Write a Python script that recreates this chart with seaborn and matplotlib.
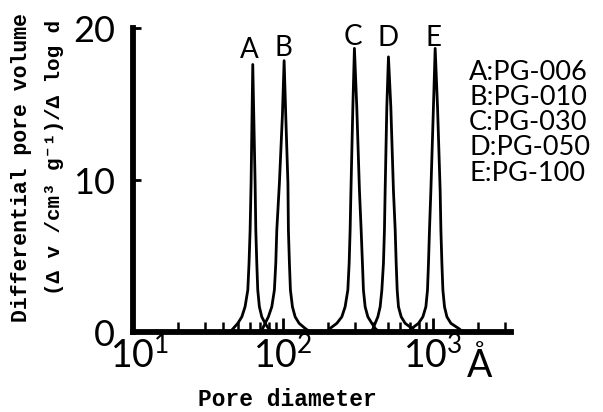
import numpy as np
import pandas as pd
import matplotlib
matplotlib.use("Agg")
import matplotlib.pyplot as plt
import matplotlib.ticker as mticker
import matplotlib.transforms as mtransforms
import seaborn as sns

# ---- data (pore diameter in Å, dV/dlogd) ----
samples = ["A", "B", "C", "D", "E"]
sample_names = ["PG-006", "PG-010", "PG-030", "PG-050", "PG-100"]

A_diam = [44.3, 46.6, 49.9, 53.1, 55.8, 58.2, 59.3, 60.3, 61.2, 62.8,
          65.1, 65.8, 66.8, 67.8, 69.5, 72.1, 75.9, 79.8, 85.8]
A_vol = [0.0, 0.24, 0.57, 1.0, 1.66, 2.76, 4.52, 6.71, 9.8, 17.6,
         9.8, 6.71, 4.52, 2.76, 1.66, 1.0, 0.57, 0.24, 0.0]

B_diam = [71.3, 75.9, 79.8, 84.1, 87.5, 89.4, 90.8, 94.5, 98.9, 101.6,
          104.2, 107.7, 108.5, 110.2, 111.9, 115.4, 120.3, 127.9, 140.2, 151.4]
B_vol = [0.0, 0.57, 1.0, 1.66, 2.76, 4.52, 6.71, 9.8, 14.2, 17.85,
         14.2, 9.8, 6.71, 4.52, 2.76, 1.66, 1.0, 0.57, 0.24, 0.0]

C_diam = [193.5, 205.8, 228.0, 246.3, 259.0, 270.0, 275.5, 279.7, 283.2, 291.6, 298.7,
          309.7, 322.7, 331.2, 337.8, 343.0, 352.1, 367.0, 390.2, 410.5, 436.5]
C_vol = [0.0, 0.24, 0.57, 1.0, 1.66, 2.76, 4.52, 6.71, 9.3, 14.8, 18.66,
         14.8, 9.3, 6.71, 4.52, 2.76, 1.66, 1.0, 0.57, 0.24, 0.0]

D_diam = [386.0, 398.1, 410.5, 427.9, 443.3, 455.0, 466.3, 473.5, 478.6, 491.0, 503.5,
          522.2, 543.6, 558.3, 566.9, 575.7, 587.2, 612.1, 650.9, 721.4, 770.5]
D_vol = [0.0, 0.24, 0.57, 1.0, 1.66, 2.76, 4.52, 6.71, 9.3, 14.8, 18.1,
         14.8, 9.3, 6.71, 4.52, 2.76, 1.66, 1.0, 0.57, 0.24, 0.0]

E_diam = [671.2, 721.4, 798.2, 853.9, 894.1, 916.4, 930.5, 944.9, 965.2, 1004.0, 1031.0,
          1069.0, 1113.0, 1125.7, 1143.0, 1160.7, 1189.7, 1234.3, 1312.4, 1474.9, 1585.0]
E_vol = [0.0, 0.24, 0.57, 1.0, 1.66, 2.76, 4.52, 6.71, 9.3, 14.8, 18.66,
         14.8, 9.3, 6.71, 4.52, 2.76, 1.66, 1.0, 0.57, 0.24, 0.0]

# peak letter label anchors (diameter, value)
label_diam = [59.3, 100.0, 293.0, 500.0, 1000.0]
label_vol = [18.55, 18.7, 19.4, 19.35, 19.35]

y_ticks = [0, 10, 20]
x_ticks = [10, 100, 1000]
x_ticklabels = ["$10^{1}$", "$10^{2}$", "$10^{3}$"]

frames = []
for s, d, v in zip(samples, [A_diam, B_diam, C_diam, D_diam, E_diam],
                   [A_vol, B_vol, C_vol, D_vol, E_vol]):
    frames.append(pd.DataFrame({"sample": s, "diam": d, "vol": v}))
df = pd.concat(frames, ignore_index=True)

sns.set_style("ticks")
plt.rcParams["font.family"] = ["Lato", "DejaVu Sans"]
plt.rcParams["mathtext.default"] = "regular"
for k in ["text.color", "axes.labelcolor", "xtick.color", "ytick.color", "axes.edgecolor"]:
    plt.rcParams[k] = "black"

W, H = 603, 412
fig = plt.figure(figsize=(W / 100, H / 100), dpi=100)
fig.patch.set_facecolor("white")
ax = fig.add_axes([133 / W, 1 - 332 / H, (511 - 133) / W, (332 - 28) / H])
ax.set_facecolor("white")

sns.lineplot(data=df, x="diam", y="vol", hue="sample", units="sample",
             estimator=None, palette=["black"] * 5, legend=False, sort=False,
             linewidth=2.0, ax=ax)
for ln in ax.get_lines():
    ln.set_solid_joinstyle("round")

ax.set_xscale("log")
ax.set_xlim(10, 3300)
ax.set_ylim(0, 20)
ax.set_xlabel("")
ax.set_ylabel("")

for side in ["top", "right"]:
    ax.spines[side].set_visible(False)
for side in ["left", "bottom"]:
    ax.spines[side].set_linewidth(4.2)
    ax.spines[side].set_color("black")
    ax.spines[side].set_capstyle("projecting")

sans = dict(family=["Lato", "DejaVu Sans"], color="black")

ax.set_yticks(y_ticks)
ax.set_yticklabels([str(t) for t in y_ticks], fontsize=26, **sans)
ax.tick_params(axis="y", direction="in", length=6, width=2, pad=13)

ax.xaxis.set_major_locator(mticker.FixedLocator(x_ticks))
ax.xaxis.set_major_formatter(mticker.FixedFormatter(x_ticklabels))
ax.xaxis.set_minor_locator(mticker.LogLocator(base=10, subs=np.arange(2, 10)))
ax.xaxis.set_minor_formatter(mticker.NullFormatter())
ax.tick_params(axis="x", which="major", direction="in", length=10, width=2, pad=3,
               labelsize=27)
ax.tick_params(axis="x", which="minor", direction="in", length=7, width=1.8)

fig.canvas.draw()
first = ax.xaxis.get_major_ticks()[0].label1
first.set_transform(first.get_transform() +
                    mtransforms.ScaledTranslation(7 / 100, 0, fig.dpi_scale_trans))

# peak letters
for s, xd, yv in zip(samples, label_diam, label_vol):
    ax.text(xd, yv, s, ha="center", va="center", fontsize=20, **sans)

# key text
for i, (s, n) in enumerate(zip(samples, sample_names)):
    fig.text(469 / W, 1 - (72 + 25.3 * i) / H, f"{s}:{n}", ha="left", va="center",
             fontsize=19.5, **sans)

# unit symbol
fig.text(480 / W, 1 - 366 / H, "Å", ha="center", va="center", fontsize=27, **sans)

mono = dict(family=["Liberation Mono", "DejaVu Sans Mono"], weight="bold", color="black")
fig.text(22 / W, 1 - 168 / H, "Differential pore volume", rotation=90,
         ha="center", va="center", fontsize=15.5, **mono)
fig.text(54 / W, 1 - 157 / H, "(Δ v /cm³ g⁻¹)/Δ log d", rotation=90,
         ha="center", va="center", fontsize=15, **mono)
fig.text(287 / W, 1 - 399 / H, "Pore diameter", ha="center", va="center",
         fontsize=16.5, **mono)

fig.savefig("out.png", dpi=100, facecolor="white")
